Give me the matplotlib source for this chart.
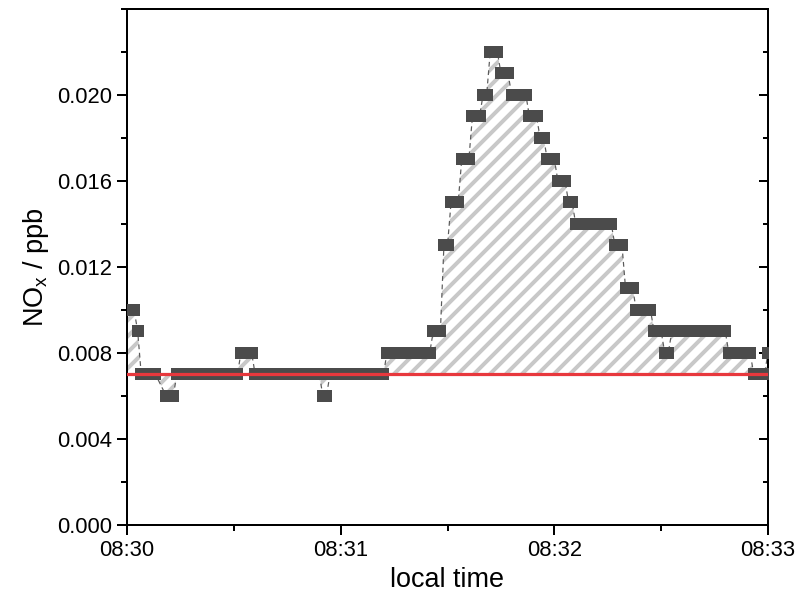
import numpy as np
import matplotlib
matplotlib.use("Agg")
import matplotlib.pyplot as plt
from matplotlib.ticker import FixedLocator, MultipleLocator, FormatStrFormatter

# runs of equal readings: first and last second after 08:30:00 (inclusive), NOx value
run_start = [0, 3, 4, 11, 14, 32, 36, 55, 57, 73,
             86, 89, 91, 94, 97, 100, 102, 105, 108, 113,
             116, 118, 121, 124, 126, 137, 140, 143, 148, 151,
             153, 169, 176, 180]
run_end = [2, 3, 8, 13, 31, 35, 54, 56, 72, 85,
           88, 90, 93, 96, 99, 101, 104, 107, 112, 115,
           117, 120, 123, 125, 136, 139, 142, 147, 150, 152,
           168, 175, 179, 180]
run_value = [0.010, 0.009, 0.007, 0.006, 0.007, 0.008, 0.007, 0.006, 0.007, 0.008,
             0.009, 0.013, 0.015, 0.017, 0.019, 0.020, 0.022, 0.021, 0.020, 0.019,
             0.018, 0.017, 0.016, 0.015, 0.014, 0.013, 0.011, 0.010, 0.009, 0.008,
             0.009, 0.008, 0.007, 0.008]
background = 0.007

x_ticks = [0, 60, 120, 180]
x_labels = ["08:30", "08:31", "08:32", "08:33"]

# one reading per second inside each run
t = np.concatenate([np.arange(s, e + 1) for s, e in zip(run_start, run_end)])
v = np.concatenate([np.full(e - s + 1, val) for s, e, val in zip(run_start, run_end, run_value)])

plt.rcParams["font.family"] = ["Liberation Sans", "DejaVu Sans"]
plt.rcParams["hatch.linewidth"] = 2.0

dpi = 144
fig = plt.figure(figsize=(796 / dpi, 597 / dpi), dpi=dpi)
ax = fig.add_axes([127 / 796, 1 - 525 / 597, 641 / 796, 516.3 / 597])

ax.fill_between(t, v, background, facecolor="none", edgecolor="#c8c8c8",
                hatch="///", linewidth=0, zorder=1)
ax.plot(t, v, color="#5a5a5a", lw=0.6, ls=(0, (4, 3)), zorder=2)
ax.plot(t, v, ls="none", marker="s", ms=5.6, mfc="#4b4b4b", mec="#4b4b4b",
        mew=0, zorder=3)
ax.axhline(background, color="#e8383d", lw=1.6, zorder=4)

ax.set_xlim(0, 180)
ax.set_ylim(0, 0.024)

ax.xaxis.set_major_locator(FixedLocator(x_ticks))
ax.set_xticklabels(x_labels)
ax.xaxis.set_minor_locator(MultipleLocator(30))
ax.yaxis.set_major_locator(FixedLocator([0.000, 0.004, 0.008, 0.012, 0.016, 0.020]))
ax.yaxis.set_minor_locator(MultipleLocator(0.002))
ax.yaxis.set_major_formatter(FormatStrFormatter("%.3f"))

for sp in ax.spines.values():
    sp.set_linewidth(1.0)
ax.tick_params(which="major", direction="out", length=5, width=1, labelsize=11, pad=2.5)
ax.tick_params(which="minor", direction="out", length=3, width=1)

right = ax.secondary_yaxis("right")
right.yaxis.set_major_locator(FixedLocator([0.000, 0.004, 0.008, 0.012, 0.016, 0.020]))
right.yaxis.set_minor_locator(MultipleLocator(0.002))
right.tick_params(which="major", direction="in", length=4.5, width=1, labelright=False)
right.tick_params(which="minor", direction="in", length=2.5, width=1)
right.spines["right"].set_linewidth(1.0)

ax.set_xlabel("local time", fontsize=13.5, labelpad=3)
ax.set_ylabel(r"NO$_\mathregular{x}$ / ppb", fontsize=13.5, labelpad=3)

fig.savefig("out.png", dpi=dpi)
